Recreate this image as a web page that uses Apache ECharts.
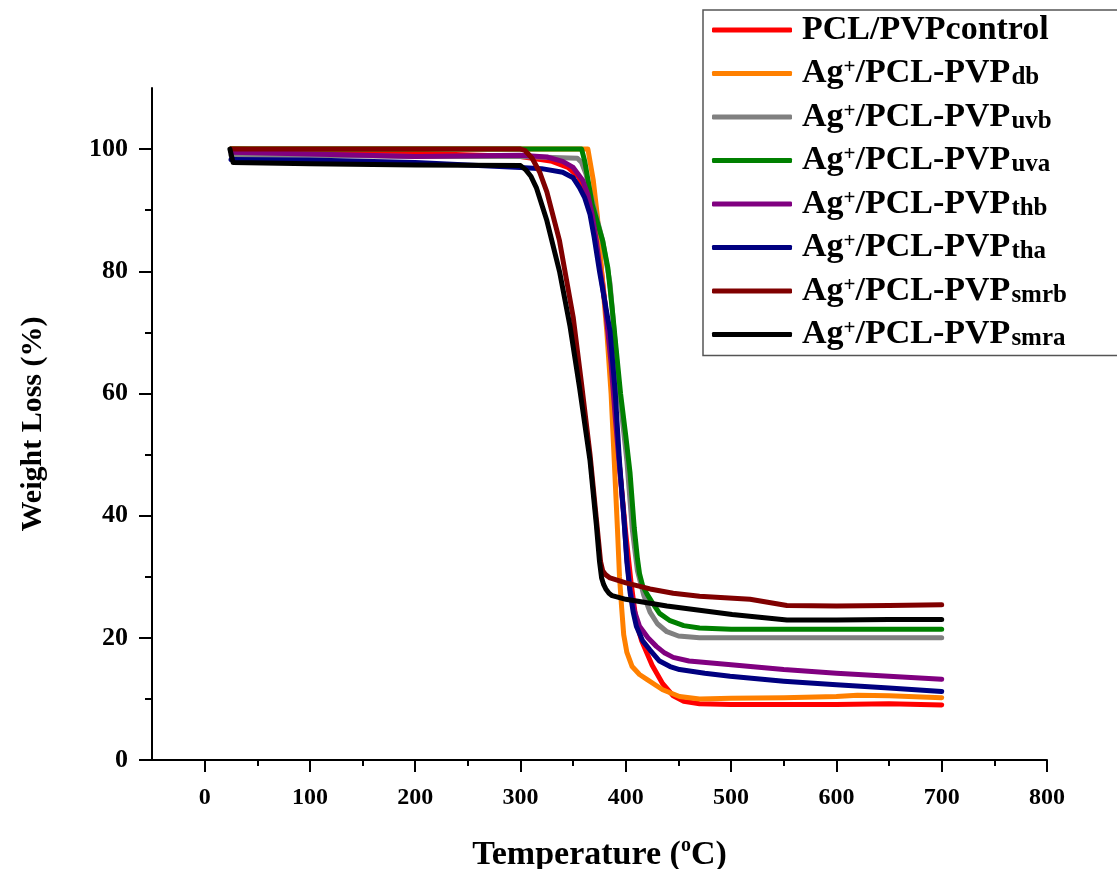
<!DOCTYPE html>
<html>
<head>
<meta charset="utf-8">
<script src="https://cdn.jsdelivr.net/npm/echarts@6/dist/echarts.min.js"></script>
<style>
html,body{margin:0;padding:0;background:#fff;overflow:hidden;}
#chart{width:1117px;height:869px;}
</style>
</head>
<body>
<div id="chart"></div>
<script>
// ---- Data (temperature in °C, weight in %) ----
const seriesNames = ['PCL/PVPcontrol','Ag+/PCL-PVPdb','Ag+/PCL-PVPuvb','Ag+/PCL-PVPuva','Ag+/PCL-PVPthb','Ag+/PCL-PVPtha','Ag+/PCL-PVPsmrb','Ag+/PCL-PVPsmra'];
const seriesColors = ['#FF0000','#FF8000','#808080','#008000','#800080','#000080','#800000','#000000'];

const tControl = [25,100,200,300,330,345,355,362,368,375,382,388,394,400,405,410,415,420,425,435,445,455,470,500,550,600,650,700];
const wControl = [100,99.7,99.3,98.8,98,97,95.5,93,90,83,72,60,48,37,29,22.5,19.5,17.5,15.5,12.5,10.5,9.6,9.2,9.1,9.1,9.1,9.2,9.0];

const tDb = [25,100,200,300,364,366,369,373,377,382,386,389,392,394,396,398,401,406,413,420,435,451,470,500,550,600,620,650,700];
const wDb = [100,100,100,100,100,98,95,89,80,70,60,49,38,30,25,20.5,17.6,15.3,14,13.2,11.5,10.4,10,10.1,10.2,10.4,10.6,10.5,10.2];

const tUvb = [25,100,200,300,354,358,362,366,372,378,385,389,394,401,406,411,417,423,430,439,450,470,550,700];
const wUvb = [99,99,98.8,98.8,98.5,97.8,96,93,89,85,78,70,60,49,38,31,27,24.2,22.3,21,20.3,20,20,20];

const tUva = [25,100,200,300,358,361,364,368,373,378,383,387,391,395,400,404,408,411,413,416,420,425,432,442,455,470,500,600,700];
const wUva = [100,100,100,100,100,98,95,91,88,85,80.5,74,67,60,53,47,38,33,30.5,28.5,27.2,25.8,24,22.8,22,21.6,21.4,21.4,21.4];

const tThb = [25,100,200,300,325,340,350,359,364,368,372,375,380,386,390,394,398,401,404,408,413,421,429,437,445,460,500,550,600,650,700];
const wThb = [99.5,99.2,98.8,99,98.7,98,97,94.9,92.5,89.3,85,81,75,65,56,48,40,33,28,24.5,21.9,20,18.6,17.5,16.8,16.2,15.6,14.8,14.2,13.7,13.2];

const tTha = [25,100,200,300,320,340,350,356,361,366,370,375,385,390,394,398,401,404,407,410,416,423,432,442,451,475,499,550,600,650,700];
const wTha = [98.3,98.2,97.8,97,96.8,96.2,95.3,93.7,92,89.3,85.5,80,70.2,60,48.8,40,32.4,27.5,24.2,21.9,19.5,18,16.2,15.3,14.8,14.2,13.7,12.9,12.3,11.8,11.2];

const tSmrb = [25,100,200,300,304,311,318,325,337,350,358,366,372,376,378,381,385,400,423,445,470,518,553,600,650,700];
const wSmrb = [100,100,100,100,99.8,98.5,96.3,93,85,72.5,61.5,50,39.5,32.5,31,30.3,29.8,29,28,27.3,26.8,26.3,25.3,25.2,25.3,25.4];

const tSmra = [24,27,100,200,300,305,310,315,325,337,347,356,366,372,375,377,379,381,384,387,400,439,470,501,553,600,650,700];
const wSmra = [100,97.8,97.6,97.4,97.3,96.6,95.5,93.7,88.3,80,71,61,49,38.5,32.5,29.8,28.7,28,27.3,26.9,26.3,25.2,24.5,23.8,22.9,22.9,23,23];

const xMajorTicks = [0,100,200,300,400,500,600,700,800];
const xMinorTicks = [50,150,250,350,450,550,650,750];
const yMajorTicks = [0,20,40,60,80,100];
const yMinorTicks = [10,30,50,70,90];

const tempArrays = [tControl,tDb,tUvb,tUva,tThb,tTha,tSmrb,tSmra];
const weightArrays = [wControl,wDb,wUvb,wUva,wThb,wTha,wSmrb,wSmra];

// ---- Chart ----
const FONT = '"Liberation Serif","Times New Roman",serif';
const chart = echarts.init(document.getElementById('chart'), null, {renderer:'canvas'});

function legendLabel(name){
  if (name === 'PCL/PVPcontrol') return '{b|PCL/PVPcontrol}';
  const sub = name.replace('Ag+/PCL-PVP','');
  return '{b|Ag}{sup|+}{b|/PCL-PVP}{sub|' + sub + '}';
}

const series = seriesNames.map((n,i)=>({
  name:n,
  type:'line',
  data: tempArrays[i].map((t,j)=>[t, weightArrays[i][j]]),
  showSymbol:false,
  symbol:'none',
  smooth:false,
  color: seriesColors[i],
  lineStyle:{width:5, color:seriesColors[i], cap:'round', join:'round'},
  emphasis:{disabled:true},
  xAxisIndex:0, yAxisIndex:0
}));

const option = {
  animation:false,
  backgroundColor:'#fff',
  grid:{left:152, right:70, top:88, bottom:109, containLabel:false, outerBoundsMode:'none'},
  legend:{
    orient:'vertical',
    left:703, top:10,
    padding:[3,60,4,9],
    itemWidth:80, itemHeight:5, itemGap:9.5,
    icon:'roundRect',
    borderColor:'#555', borderWidth:1.5,
    selectedMode:false,
    data:seriesNames,
    formatter: legendLabel,
    textStyle:{
      padding:[0,0,0,5],
      lineHeight:34,
      rich:{
        b:{fontFamily:FONT, fontWeight:'bold', fontSize:34, color:'#000', lineHeight:34, verticalAlign:'middle'},
        sup:{fontFamily:FONT, fontWeight:'bold', fontSize:21, color:'#000', lineHeight:34, verticalAlign:'top', padding:[1,0,0,0]},
        sub:{fontFamily:FONT, fontWeight:'bold', fontSize:25, color:'#000', lineHeight:34, verticalAlign:'bottom', padding:[0,0,0,1]}
      }
    }
  },
  xAxis:[
    {
      type:'value', min:-50, max:800,
      position:'bottom',
      name:'{a|Temperature (}{s|o}{a|C)}',
      nameLocation:'middle', nameGap:76,
      nameTextStyle:{
        rich:{
          a:{fontFamily:FONT, fontWeight:'bold', fontSize:34, color:'#000', lineHeight:38, verticalAlign:'middle'},
          s:{fontFamily:FONT, fontWeight:'bold', fontSize:20, color:'#000', lineHeight:38, verticalAlign:'top'}
        }
      },
      axisLine:{show:true, onZero:false, lineStyle:{color:'#000', width:2}},
      axisTick:{show:true, customValues:xMajorTicks, length:12, lineStyle:{color:'#000', width:2}},
      axisLabel:{customValues:xMajorTicks, margin:26, fontFamily:FONT, fontWeight:'bold', fontSize:24, color:'#000'},
      splitLine:{show:false}
    },
    {
      type:'value', min:-50, max:800,
      position:'bottom',
      axisLine:{show:false, onZero:false},
      axisTick:{show:true, customValues:xMinorTicks, length:6, lineStyle:{color:'#000', width:2}},
      axisLabel:{show:false},
      splitLine:{show:false}
    }
  ],
  yAxis:[
    {
      type:'value', min:0, max:110,
      position:'left',
      name:'Weight Loss (%)',
      nameLocation:'middle', nameGap:104,
      nameTextStyle:{fontFamily:FONT, fontWeight:'bold', fontSize:30, color:'#000'},
      axisLine:{show:true, onZero:false, lineStyle:{color:'#000', width:2}},
      axisTick:{show:true, customValues:yMajorTicks, length:13, lineStyle:{color:'#000', width:2}},
      axisLabel:{customValues:yMajorTicks, margin:24, fontFamily:FONT, fontWeight:'bold', fontSize:26, color:'#000'},
      splitLine:{show:false}
    },
    {
      type:'value', min:0, max:110,
      position:'left',
      axisLine:{show:false, onZero:false},
      axisTick:{show:true, customValues:yMinorTicks, length:7, lineStyle:{color:'#000', width:2}},
      axisLabel:{show:false},
      splitLine:{show:false}
    }
  ],
  series: series
};
chart.setOption(option);
</script>
</body>
</html>
